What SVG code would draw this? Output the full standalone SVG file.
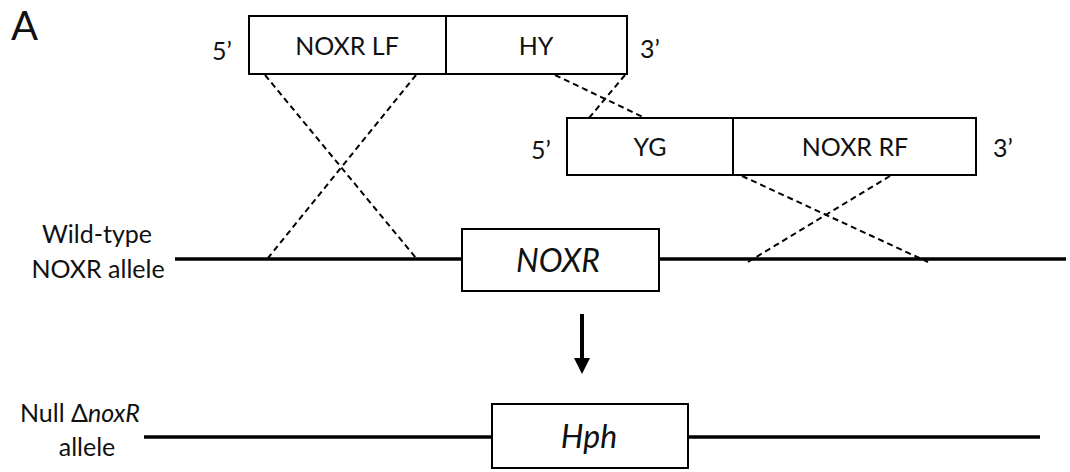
<svg xmlns="http://www.w3.org/2000/svg" width="1070" height="472" viewBox="0 0 1070 472">
  <defs>
    <style>
      .box { fill: #ffffff; stroke: #000000; stroke-width: 2; }
      .seg { stroke: #000000; stroke-width: 2; }
      .dna { stroke: #000000; stroke-width: 3.5; fill: none; }
      .cross { stroke: #000000; stroke-width: 2; stroke-dasharray: 6 4; fill: none; }
      .lbl { font-family: Lato, "Liberation Sans", sans-serif; font-size: 25px; fill: #111111; }
      .mid { text-anchor: middle; }
      .gene { font-family: Lato, "Liberation Sans", sans-serif; font-size: 32px; font-style: italic; fill: #111111; text-anchor: middle; }
    </style>
    <marker id="head" viewBox="0 0 10 10" refX="0" refY="5" markerWidth="4" markerHeight="4" markerUnits="strokeWidth" orient="auto">
      <path d="M0,0 L10,5 L0,10 Z" fill="#000000"/>
    </marker>
  </defs>

  <rect width="1070" height="472" fill="#ffffff"/>

  <text class="lbl" x="11" y="40" style="font-size:40px">A</text>

  <!-- upstream flank + hygromycin fragment -->
  <g id="fragment-lf-hy">
    <rect class="box" x="249" y="16" width="378" height="58"/>
    <line class="seg" x1="446" y1="16" x2="446" y2="74"/>
    <text class="lbl" x="212" y="60">5’</text>
    <text class="lbl mid" x="347" y="55">NOXR LF</text>
    <text class="lbl mid" x="536" y="55">HY</text>
    <text class="lbl" x="640" y="58">3’</text>
  </g>

  <!-- hygromycin fragment + downstream flank -->
  <g id="fragment-yg-rf">
    <rect class="box" x="567" y="118" width="409" height="57"/>
    <line class="seg" x1="733" y1="118" x2="733" y2="175"/>
    <text class="lbl" x="531" y="159">5’</text>
    <text class="lbl mid" x="650" y="156">YG</text>
    <text class="lbl mid" x="855" y="156">NOXR RF</text>
    <text class="lbl" x="993" y="157">3’</text>
  </g>

  <!-- wild-type locus -->
  <g id="wild-type-allele">
    <text class="lbl mid" x="97" y="243">Wild-type</text>
    <text class="lbl mid" x="98" y="278">NOXR allele</text>
    <line class="dna" x1="175" y1="259" x2="462" y2="259"/>
    <line class="dna" x1="659" y1="259" x2="1066" y2="259"/>
    <rect class="box" x="462" y="229" width="197" height="62"/>
    <text class="gene" x="558" y="272">NOXR</text>
  </g>

  <!-- deletion locus -->
  <g id="null-allele">
    <text class="lbl" x="20" y="422">Null Δ<tspan font-style="italic">noxR</tspan></text>
    <text class="lbl mid" x="87" y="456">allele</text>
    <line class="dna" x1="144" y1="437" x2="492" y2="437"/>
    <line class="dna" x1="688" y1="437" x2="1040" y2="437"/>
    <rect class="box" x="492" y="404" width="196" height="64"/>
    <text class="gene" x="589" y="448">Hph</text>
  </g>

  <!-- recombination crossovers and result arrow -->
  <g id="connectors">
    <line class="cross" x1="265" y1="75" x2="416" y2="258"/>
    <line class="cross" x1="416" y1="75" x2="268" y2="258"/>
    <line class="cross" x1="555" y1="75" x2="645" y2="118"/>
    <line class="cross" x1="625" y1="75" x2="589" y2="118"/>
    <line class="cross" x1="742" y1="176" x2="928" y2="262"/>
    <line class="cross" x1="890" y1="176" x2="748" y2="262"/>
    <line x1="582" y1="314" x2="582" y2="358" stroke="#000000" stroke-width="4" marker-end="url(#head)"/>
  </g>
</svg>
